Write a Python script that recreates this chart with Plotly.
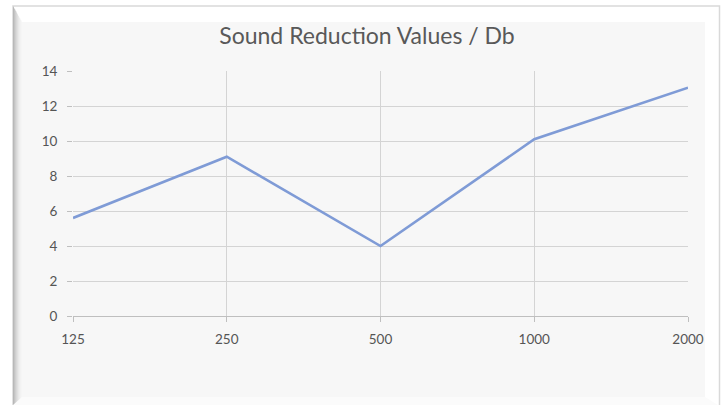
import plotly.graph_objects as go

categories = ["125", "250", "500", "1000", "2000"]
values = [5.6, 9.1, 4.0, 10.1, 13.05]
y_ticks = [0, 2, 4, 6, 8, 10, 12, 14]
title_text = "Sound Reduction Values / Db"

W, H = 727, 405
L, R, T, B = 73, 39, 71, 89
PW, PH = W - L - R, H - T - B

def px(x):
    return (x - L) / PW

def py(y):
    return 1 - (y - T) / PH

fig = go.Figure()
fig.add_trace(go.Scatter(
    x=categories, y=values, mode="lines",
    line=dict(color="#7f9bd6", width=2.6),
    hoverinfo="x+y", showlegend=False,
))

shapes = []
# outer border
shapes.append(dict(type="rect", xref="paper", yref="paper", layer="below",
                   x0=px(13), x1=px(719.5), y0=py(410), y1=py(6),
                   line=dict(color="#d9d9d9", width=1.5), fillcolor="#ffffff"))
# inner background
shapes.append(dict(type="rect", xref="paper", yref="paper", layer="below",
                   x0=px(22), x1=px(705), y0=py(397), y1=py(22),
                   line=dict(width=0), fillcolor="#f7f7f7"))
# left bevel (gradient imitation)
bevel_cols = ["#b8b8b8", "#c4c4c4", "#cfcfcf", "#d8d8d8", "#e0e0e0", "#e8e8e8", "#eeeeee", "#f2f2f2", "#f5f5f5"]
for i, c in enumerate(bevel_cols):
    x0 = 13 + i
    x1 = 14 + i
    shapes.append(dict(type="path", xref="paper", yref="paper", layer="below",
                       path=f"M {px(x0)},{py(6 + i * 16 / 9)} L {px(x1)},{py(6 + (i + 1) * 16 / 9)} L {px(x1)},{py(405)} L {px(x0)},{py(405)} Z",
                       line=dict(width=0), fillcolor=c))
# bottom bevel
shapes.append(dict(type="path", xref="paper", yref="paper", layer="below",
                   path=f"M {px(22)},{py(397)} L {px(705)},{py(397)} L {px(718)},{py(405)} L {px(13)},{py(405)} Z",
                   line=dict(width=0), fillcolor="#fbfbfb"))

fig.update_layout(
    width=W, height=H,
    margin=dict(l=L, r=R, t=T, b=B),
    paper_bgcolor="#ffffff",
    plot_bgcolor="rgba(0,0,0,0)",
    shapes=shapes,
    title=dict(text=title_text, x=(367) / W, xanchor="center", y=1 - 36 / H, yanchor="middle",
               font=dict(family="Lato, Open Sans, sans-serif", size=23, color="#595959")),
    font=dict(family="Lato, Open Sans, sans-serif", color="#595959", size=13),
    xaxis=dict(type="category", range=[0, len(categories) - 1],
               showgrid=True, gridcolor="#d4d4d4", gridwidth=1,
               showline=True, linecolor="#bfbfbf", linewidth=1,
               ticks="outside", ticklen=5, tickcolor="#bfbfbf",
               ticklabelstandoff=6,
               tickfont=dict(size=13.5, color="#555555"), zeroline=False,
               fixedrange=True),
    yaxis=dict(range=[0, 14], tickvals=y_ticks,
               showgrid=True, gridcolor="#d4d4d4", gridwidth=1,
               showline=False, zeroline=False,
               ticks="outside", ticklen=5, tickcolor="#bfbfbf",
               ticklabelstandoff=7,
               tickfont=dict(size=13.5, color="#555555"),
               fixedrange=True),
)

fig.write_html("out.html", config={"displayModeBar": False},
               post_script="document.body.style.margin='0';document.body.style.overflow='hidden';")
